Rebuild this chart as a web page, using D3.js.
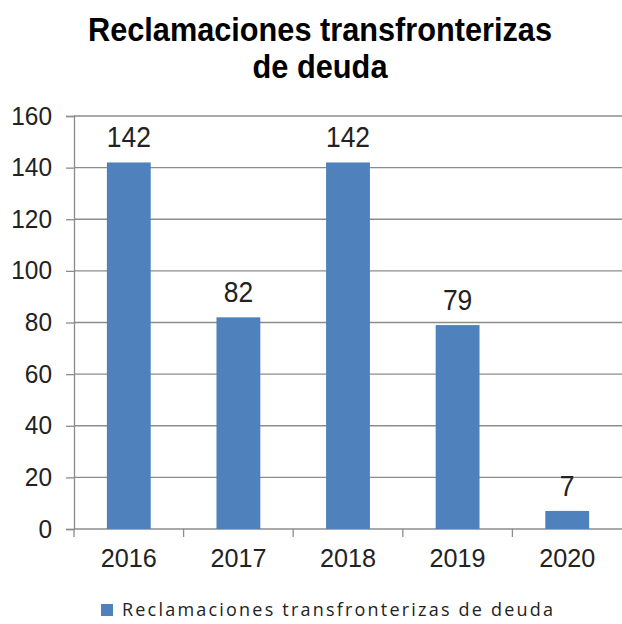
<html>
<script src="https://d3js.org/d3.v7.min.js" charset="utf-8"></script>
<style>
body { margin: 0; background: white; }
text { font-family: "Liberation Sans", Arial, sans-serif; fill: #222; }
</style>
<body>
</body>
<script>

var years = ["2016", "2017", "2018", "2019", "2020"];
var counts = [142, 82, 142, 79, 7];
var yTicks = [0, 20, 40, 60, 80, 100, 120, 140, 160];
var titleLines = ["Reclamaciones transfronterizas", "de deuda"];
var seriesName = "Reclamaciones transfronterizas de deuda";

drawChart();

function drawChart() {
	var screen_w = 622
	var screen_h = 624
	var left = 74, right = 622, top = 116, bottom = 529;
	var barColor = "#4F81BD";
	var gridColor = "#8c8c8c";

	var svg = d3.select("body").append("svg")
		.attr("width", screen_w)
		.attr("height", screen_h);

	var x = d3.scaleBand()
		.domain(years)
		.range([left, right])
		.paddingInner(0.6)
		.paddingOuter(0.3);

	var band = d3.scaleBand().domain(years).range([left, right]);

	var y = d3.scaleLinear()
		.domain([0, 160])
		.range([bottom, top]);

	// title (squeezed a bit, like the original)
	var titleWidths = [464, 135];
	svg.selectAll("text.title")
		.data(titleLines)
		.enter().append("text")
		.attr("class", "title")
		.attr("x", 320)
		.attr("y", function(d, i) { return 41 + i * 37; })
		.attr("text-anchor", "middle")
		.attr("textLength", function(d, i) { return titleWidths[i]; })
		.attr("lengthAdjust", "spacingAndGlyphs")
		.style("font-size", "33px")
		.style("font-weight", "bold")
		.style("fill", "#000")
		.text(function(d) { return d; });

	// gridlines
	svg.append("g")
		.selectAll("line")
		.data(yTicks)
		.enter().append("line")
		.attr("x1", left)
		.attr("x2", right)
		.attr("y1", function(d) { return y(d); })
		.attr("y2", function(d) { return y(d); })
		.style("stroke", gridColor)
		.style("stroke-width", 1.3);

	// y axis
	var yAxis = svg.append("g")
		.attr("transform", "translate(" + left + ",0)")
		.call(d3.axisLeft(y).tickValues(yTicks).tickSize(8).tickPadding(14));
	yAxis.select(".domain").style("stroke", gridColor).style("stroke-width", 1.3);
	yAxis.selectAll(".tick line").style("stroke", gridColor).style("stroke-width", 1.3);
	yAxis.selectAll("text").style("font-size", "25px").style("fill", "#222")
		.style("font-family", "Liberation Sans, Arial, sans-serif")
		.attr("textLength", function(d) { return String(d).length * 13.6; })
		.attr("lengthAdjust", "spacingAndGlyphs");

	// bars
	svg.selectAll("rect.bar")
		.data(counts)
		.enter().append("rect")
		.attr("class", "bar")
		.attr("x", function(d, i) { return x(years[i]); })
		.attr("y", function(d) { return y(d); })
		.attr("width", x.bandwidth())
		.attr("height", function(d) { return bottom - y(d); })
		.style("fill", barColor);

	// value labels
	svg.selectAll("text.val")
		.data(counts)
		.enter().append("text")
		.attr("class", "val")
		.attr("x", function(d, i) { return x(years[i]) + x.bandwidth() / 2; })
		.attr("y", function(d) { return y(d) - 15; })
		.attr("text-anchor", "middle")
		.attr("textLength", function(d) { return String(d).length * 14.7; })
		.attr("lengthAdjust", "spacingAndGlyphs")
		.style("font-size", "29px")
		.text(function(d) { return d; });

	// x axis
	var xAxis = svg.append("g")
		.attr("transform", "translate(0," + bottom + ")")
		.call(d3.axisBottom(band).tickSize(0).tickPadding(20));
	xAxis.select(".domain").remove();
	xAxis.selectAll("text").style("font-size", "25.5px").style("fill", "#222")
		.style("font-family", "Liberation Sans, Arial, sans-serif")
		.attr("textLength", 56)
		.attr("lengthAdjust", "spacingAndGlyphs");

	// category separators
	svg.append("g")
		.selectAll("line")
		.data(years.slice(1))
		.enter().append("line")
		.attr("x1", function(d) { return band(d); })
		.attr("x2", function(d) { return band(d); })
		.attr("y1", bottom)
		.attr("y2", bottom + 8)
		.style("stroke", gridColor)
		.style("stroke-width", 1.3);
	svg.append("line")
		.attr("x1", left).attr("x2", left)
		.attr("y1", bottom).attr("y2", bottom + 8)
		.style("stroke", gridColor)
		.style("stroke-width", 1.3);

	// legend
	svg.append("rect")
		.attr("x", 101)
		.attr("y", 604)
		.attr("width", 12)
		.attr("height", 12)
		.style("fill", barColor);
	svg.append("text")
		.attr("x", 122)
		.attr("y", 616)
		.attr("textLength", 431)
		.attr("lengthAdjust", "spacing")
		.style("font-family", "Open Sans, sans-serif")
		.style("font-size", "18px")
		.text(seriesName);
}

</script>
</html>
